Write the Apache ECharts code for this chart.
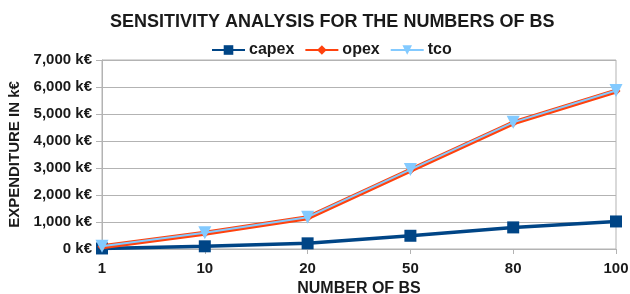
<!DOCTYPE html>
<html>
<head>
<meta charset="utf-8">
<script src="https://cdn.jsdelivr.net/npm/echarts@6/dist/echarts.min.js"></script>
<style>
  html, body { margin: 0; padding: 0; background: #fff; }
  #chart { width: 630px; height: 294px; }
</style>
</head>
<body>
<div id="chart"></div>
<script>
// values (k€)
var bsCounts = ["1", "10", "20", "50", "80", "100"];
var capex = [20, 100, 210, 490, 800, 1020];
var opex = [85, 585, 1160, 2920, 4670, 5850];
var tco = [100, 600, 1180, 2940, 4690, 5870];
var yTicks = [0, 7000, 1000];

var chartDom = document.getElementById("chart");
var myChart = echarts.init(chartDom);
var font = "Liberation Sans";
var ink = "#1a1a1a";
var option;

option = {
  animation: false,
  textStyle: { fontFamily: font },
  title: {
    text: "SENSITIVITY ANALYSIS FOR THE NUMBERS OF BS",
    left: 105,
    top: 8,
    textStyle: { fontFamily: font, fontSize: 18, fontWeight: "bold", color: ink },
  },
  legend: {
    top: 37,
    left: 206,
    itemWidth: 33,
    itemHeight: 12,
    itemGap: 10,
    textStyle: { fontFamily: font, fontSize: 16, fontWeight: "bold", color: ink, padding: [0, 0, 0, -1] },
    data: ["capex", "opex", "tco"],
  },
  grid: {
    left: 102,
    right: 14,
    top: 60,
    bottom: 45,
    outerBoundsMode: "none",
    show: true,
    borderColor: "#b3b3b3",
    borderWidth: 1,
  },
  xAxis: {
    type: "category",
    data: bsCounts,
    boundaryGap: false,
    name: "NUMBER OF BS",
    nameLocation: "middle",
    nameGap: 30,
    nameTextStyle: { fontFamily: font, fontSize: 16, fontWeight: "bold", color: ink },
    axisLine: { lineStyle: { color: "#b3b3b3" } },
    axisTick: { show: true, length: 5, lineStyle: { color: "#b3b3b3" } },
    axisLabel: { fontFamily: font, fontSize: 15, fontWeight: "bold", color: ink, margin: 12 },
    splitLine: { show: false },
  },
  yAxis: {
    type: "value",
    min: yTicks[0],
    max: yTicks[1],
    interval: yTicks[2],
    name: "EXPENDITURE IN k€",
    nameLocation: "middle",
    nameGap: 77,
    nameTextStyle: { fontFamily: font, fontSize: 15, fontWeight: "bold", color: ink },
    axisLine: { show: true, lineStyle: { color: "#b3b3b3" } },
    axisTick: { show: true, length: 6, lineStyle: { color: "#b3b3b3" } },
    axisLabel: {
      fontFamily: font,
      fontSize: 15,
      fontWeight: "bold",
      color: ink,
      margin: 10,
      formatter: function (v) {
        return v.toLocaleString("en-US") + " k€";
      },
    },
    splitLine: { lineStyle: { color: "#b3b3b3" } },
  },
  series: [
    {
      name: "capex",
      type: "line",
      data: capex,
      symbol: "rect",
      symbolSize: 12,
      lineStyle: { color: "#004586", width: 3.5 },
      itemStyle: { color: "#004586" },
      z: 3,
    },
    {
      name: "opex",
      type: "line",
      data: opex,
      symbol: "diamond",
      symbolSize: 9,
      lineStyle: { color: "#ff420e", width: 5 },
      itemStyle: { color: "#ff420e" },
      z: 4,
    },
    {
      name: "tco",
      type: "line",
      data: tco,
      symbol: "triangle",
      symbolRotate: 180,
      symbolSize: 13,
      lineStyle: { color: "#83caff", width: 2 },
      itemStyle: { color: "#83caff" },
      z: 5,
    },
  ],
};

option && myChart.setOption(option);
</script>
</body>
</html>
